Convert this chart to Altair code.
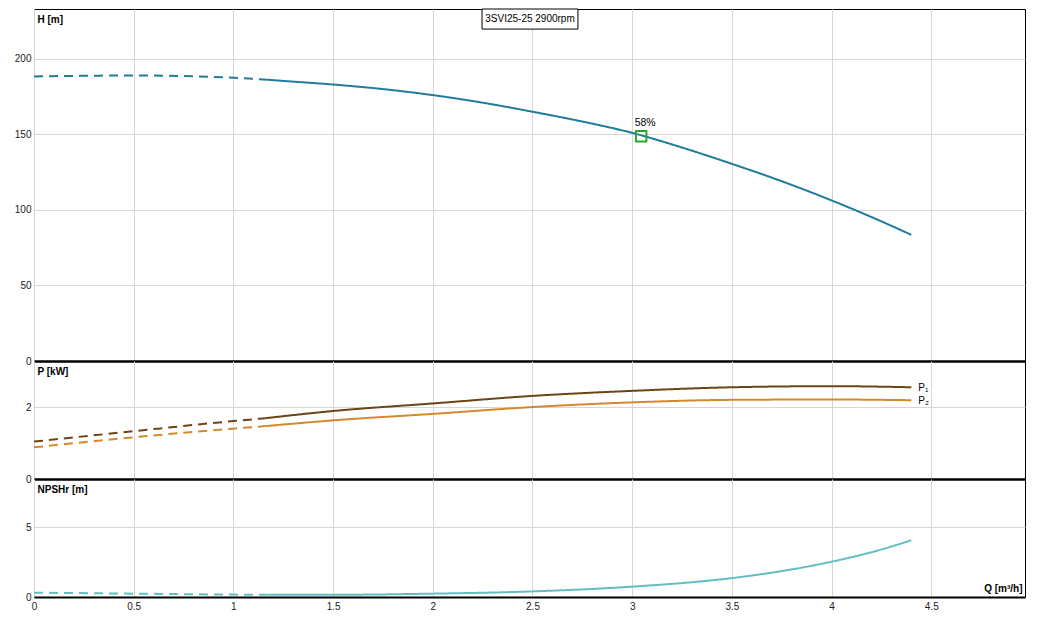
import altair as alt
import pandas as pd

FONT = "Liberation Sans"
Q_DOMAIN = [0, 4.97]
Q_TICKS = [0, 0.5, 1, 1.5, 2, 2.5, 3, 3.5, 4, 4.5]

# Head curve H [m]
q_h_dash = [0.0, 0.25, 0.5, 0.75, 1.0, 1.17]
h_dash = [188.4, 188.8, 189.0, 188.6, 187.5, 186.2]
q_h = [1.17, 1.25, 1.5, 1.75, 2.0, 2.25, 2.5, 2.75, 3.0, 3.25, 3.5, 3.75, 4.0, 4.2, 4.4]
h_solid = [186.2, 185.4, 183.0, 180.0, 176.0, 171.0, 165.0, 158.5, 151.0, 141.3, 130.5, 119.0, 106.3, 95.3, 83.5]

# Power curves P [kW]
q_p_dash = [0.0, 0.5, 1.0, 1.16]
p1_dash = [1.04, 1.33, 1.61, 1.69]
p2_dash = [0.88, 1.16, 1.40, 1.47]
q_p = [1.16, 1.5, 2.0, 2.5, 3.0, 3.5, 4.0, 4.4]
p1_solid = [1.69, 1.89, 2.10, 2.31, 2.45, 2.55, 2.58, 2.55]
p2_solid = [1.47, 1.63, 1.81, 2.00, 2.13, 2.20, 2.21, 2.19]

# NPSHr [m]
q_n_dash = [0.0, 0.5, 1.0, 1.17]
n_dash = [0.31, 0.24, 0.17, 0.16]
q_n = [1.17, 1.5, 2.0, 2.5, 3.0, 3.5, 3.75, 4.0, 4.2, 4.4]
n_solid = [0.16, 0.16, 0.24, 0.40, 0.74, 1.35, 1.85, 2.52, 3.20, 4.05]

# Duty point
duty_q = [3.045]
duty_h = [148.7]
duty_label = ["58%"]

# Title box (data coordinates)
title_text = ["3SVI25-25 2900rpm"]
box_q = [2.247, 2.728]
box_h = [219.7, 233.0]

series_names = ["H", "P1", "P2", "NPSH"]
series_colors = ["#1f7d9b", "#6b4515", "#d38a2c", "#63bec3"]


def seg(qs, vs, name, part):
    return pd.DataFrame({"q": qs, "v": vs, "series": name, "part": part})


def lines(df, yscale, yaxis, xaxis):
    return alt.Chart(df).mark_line(strokeWidth=2, interpolate="monotone").encode(
        x=alt.X("q:Q", scale=alt.Scale(domain=Q_DOMAIN, nice=False, zero=False), axis=xaxis),
        y=alt.Y("v:Q", scale=yscale, axis=yaxis),
        color=alt.Color("series:N", scale=alt.Scale(domain=series_names, range=series_colors), legend=None),
        strokeDash=alt.StrokeDash("part:N", scale=alt.Scale(domain=["dash", "solid"], range=[[9, 6], [1, 0]]), legend=None),
        detail="series:N",
    )


def xaxis_hidden():
    return alt.Axis(values=Q_TICKS, labels=False, ticks=False, title=None, grid=True,
                    domainColor="black", domainWidth=2.5, labelPadding=0,
                    minExtent=0, maxExtent=0, offset=0)


def yaxis(values, title):
    return alt.Axis(values=values, ticks=False, domain=False, grid=True, title=title,
                    titleAngle=0, titleAlign="left", titleBaseline="top", titleX=3, titleY=5,
                    titleFont=FONT, titleFontSize=10, titleFontWeight="bold", titleColor="black",
                    labelFont=FONT, labelFontSize=10, labelColor="#222", labelPadding=3,
                    labelFlush=False, minExtent=25, maxExtent=25)


W = 991

# --- H panel ---
h_scale = alt.Scale(domain=[0, 233], nice=False)
h_df = pd.concat([seg(q_h_dash, h_dash, "H", "dash"), seg(q_h, h_solid, "H", "solid")])
h_lines = lines(h_df, h_scale, yaxis([0, 50, 100, 150, 200], "H [m]"), xaxis_hidden())

duty_df = pd.DataFrame({"q": duty_q, "v": duty_h, "label": duty_label})
duty_pt = alt.Chart(duty_df).mark_point(shape="square", filled=False, size=110, strokeWidth=2,
                                         color="#2ea52e", opacity=1).encode(
    x="q:Q", y=alt.Y("v:Q", scale=h_scale))
duty_txt = alt.Chart(duty_df).mark_text(font=FONT, fontSize=10.5, color="black", dy=-13, dx=4).encode(
    x="q:Q", y=alt.Y("v:Q", scale=h_scale), text="label:N")

box_df = pd.DataFrame({"q": [box_q[0]], "q2": [box_q[1]], "v": [box_h[0]], "v2": [box_h[1]]})
box = alt.Chart(box_df).mark_rect(fill="white", stroke="black", strokeWidth=1).encode(
    x="q:Q", x2="q2:Q", y=alt.Y("v:Q", scale=h_scale), y2="v2:Q")
title_df = pd.DataFrame({"q": [(box_q[0] + box_q[1]) / 2], "v": [(box_h[0] + box_h[1]) / 2], "t": title_text})
title_txt = alt.Chart(title_df).mark_text(font=FONT, fontSize=10, color="black", baseline="middle").encode(
    x="q:Q", y=alt.Y("v:Q", scale=h_scale), text="t:N")

h_panel = alt.layer(h_lines, duty_pt, duty_txt, box, title_txt).properties(width=W, height=352)

# --- P panel ---
p_scale = alt.Scale(domain=[0, 3.28], nice=False)
p_df = pd.concat([
    seg(q_p_dash, p1_dash, "P1", "dash"), seg(q_p, p1_solid, "P1", "solid"),
    seg(q_p_dash, p2_dash, "P2", "dash"), seg(q_p, p2_solid, "P2", "solid"),
])
p_lines = lines(p_df, p_scale, yaxis([0, 2], "P [kW]"), xaxis_hidden())
p_lab_df = pd.DataFrame({"q": [q_p[-1], q_p[-1]], "v": [p1_solid[-1], p2_solid[-1]], "t": ["P₁", "P₂"]})
p_labels = alt.Chart(p_lab_df).mark_text(font=FONT, fontSize=10, color="black", align="left", dx=7, dy=1).encode(
    x="q:Q", y=alt.Y("v:Q", scale=p_scale), text="t:N")
p_panel = alt.layer(p_lines, p_labels).properties(width=W, height=118)

# --- NPSH panel ---
n_scale = alt.Scale(domain=[0, 8.43], nice=False)
n_df = pd.concat([seg(q_n_dash, n_dash, "NPSH", "dash"), seg(q_n, n_solid, "NPSH", "solid")])
n_xaxis = alt.Axis(values=Q_TICKS, format="~g", ticks=False, grid=True, domainColor="black", domainWidth=2,
                   labelFont=FONT, labelFontSize=10, labelColor="#222", labelPadding=4, labelFlush=False,
                   title="Q [m³/h]", titleFont=FONT, titleFontSize=10, titleFontWeight="bold",
                   titleColor="black", titleAlign="right", titleBaseline="bottom",
                   titleX=W - 3, titleY=-4, minExtent=14, maxExtent=14)
n_lines = lines(n_df, n_scale, yaxis([0, 5], "NPSHr [m]"), n_xaxis)
n_panel = alt.layer(n_lines).properties(width=W, height=118)

chart = alt.vconcat(h_panel, p_panel, n_panel, spacing=0, bounds="flush").resolve_scale(
    y="independent").resolve_axis(x="independent", y="independent").properties(
    padding=0
).configure_view(stroke="black", strokeWidth=1).configure_axis(gridColor="#d6d6d6", gridWidth=1)

chart.save("out.html", embed_options={"renderer": "svg", "actions": False})
